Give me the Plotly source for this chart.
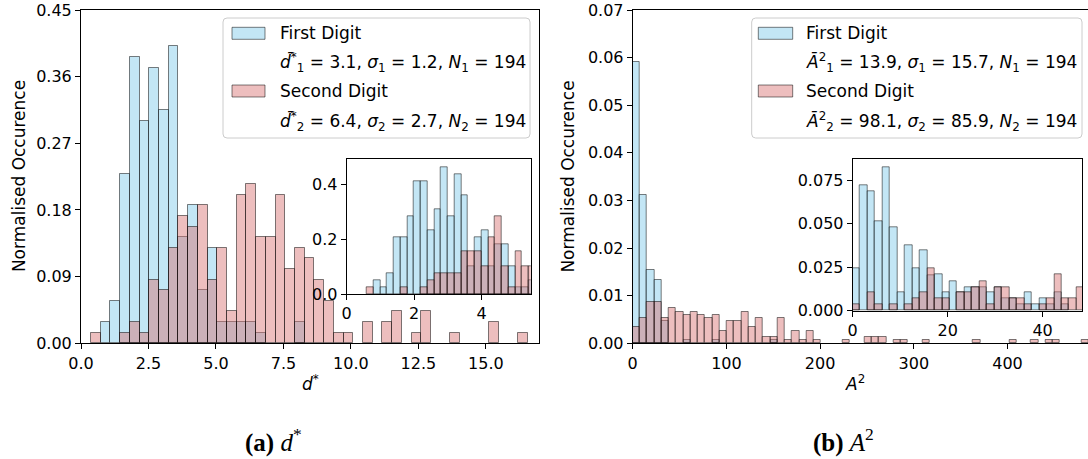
import plotly.graph_objects as go

W, H = 1088, 459

# ---------------- data (heights) ----------------
# (a) d* main histogram
d_bin_start = 0.37
d_bin_width = 0.36
d_first = [0, 0.0286, 0.0573, 0.2291, 0.3866, 0.3007, 0.3723, 0.3150, 0.4009, 0.1432,
           0.1862, 0.0716, 0.1289, 0.0286, 0.0286, 0.0286, 0.0286, 0.0143, 0, 0,
           0, 0.0286, 0, 0, 0, 0, 0, 0, 0, 0,
           0, 0, 0, 0, 0, 0, 0, 0, 0, 0,
           0, 0, 0, 0, 0]
d_second = [0.0143, 0, 0, 0.0143, 0.0286, 0.0143, 0.0859, 0.0716, 0.1289, 0.1718,
            0.1575, 0.1862, 0.0859, 0.1289, 0.0430, 0.2005, 0.2148, 0.1432, 0.1432, 0.2005,
            0.1002, 0.1289, 0.1146, 0.0859, 0.0573, 0.0143, 0.0143, 0, 0.0286, 0,
            0.0286, 0.0430, 0, 0.0143, 0.0430, 0, 0, 0.0143, 0, 0,
            0, 0.0286, 0, 0, 0.0143]

# (a) inset
di_bin_start = 0.6
di_bin_width = 0.2
di_first = [0, 0.0515, 0.0258, 0.0773, 0.2062, 0.2062, 0.2835, 0.4123, 0.4123, 0.2319,
            0.3092, 0.4639, 0.2835, 0.4381, 0.3608, 0.1031, 0.2062, 0.2319, 0.1031, 0.1804,
            0.1804, 0.1031, 0.0258, 0.0258, 0.0515]
di_second = [0.0258, 0, 0, 0, 0, 0.0258, 0, 0, 0.0258, 0.0515,
             0.0773, 0.0773, 0.0773, 0.0773, 0.1546, 0.1546, 0.1546, 0.1031, 0.2062, 0.2835,
             0.1031, 0.0258, 0.1546, 0.1031, 0.1031]

# (b) A^2 main histogram
a_bin_start = 0.0
a_bin_width = 7.73
a_first = [0.0591, 0.0311, 0.0155, 0.0134, 0.0046, 0, 0, 0.0007, 0, 0,
           0, 0.0007, 0, 0, 0, 0, 0, 0, 0, 0.0007]
a_second = [0.00333, 0.00534, 0.00867, 0.00867, 0.00534, 0.00734, 0.00667, 0.0060, 0.00667, 0.0060,
            0.00534, 0.0060, 0.00267, 0.00467, 0.00467, 0.00667, 0.00333, 0.00534, 0.00133, 0.00133,
            0.00534, 0.00067, 0.00267, 0.00067, 0.00267, 0.00067, 0, 0, 0, 0.00067,
            0, 0, 0.00133, 0.00133, 0.00133, 0, 0.00067, 0.00067, 0, 0,
            0.00067, 0, 0, 0, 0, 0, 0, 0.00067, 0, 0,
            0, 0, 0.00067, 0, 0, 0.00067, 0, 0.00067, 0.00067, 0,
            0, 0, 0.00067]

# (b) inset
ai_bin_start = 0.0
ai_bin_width = 1.572
ai_first = [0.0242, 0.0719, 0.0687, 0.0515, 0.0824, 0.0481, 0.0103, 0.0376, 0.0242, 0.0347,
            0.0204, 0.0208, 0.0103, 0.0170, 0.0103, 0.0137, 0.0137, 0.0137, 0.0103, 0.0137,
            0.0071, 0.0071, 0.0036, 0.0103, 0.0036, 0.0071, 0.0036, 0.0103, 0.0036, 0, 0]
ai_second = [0.0036, 0, 0.0103, 0.0036, 0, 0.0036, 0, 0.0036, 0.0071, 0.0103,
             0.0242, 0.0071, 0.0071, 0, 0.0103, 0.0103, 0.0137, 0.0170, 0.0036, 0.0137,
             0.0137, 0.0071, 0.0071, 0.0036, 0, 0.0036, 0.0071, 0.0208, 0.0071, 0.0071, 0.0137]

d_ticks = [0, 2.5, 5.0, 7.5, 10.0, 12.5, 15.0]
d_ticktext = ["0.0", "2.5", "5.0", "7.5", "10.0", "12.5", "15.0"]
d_yticks = [0, 0.09, 0.18, 0.27, 0.36, 0.45]
d_yticktext = ["0.00", "0.09", "0.18", "0.27", "0.36", "0.45"]
a_ticks = [0, 100, 200, 300, 400]
a_yticks = [0, 0.01, 0.02, 0.03, 0.04, 0.05, 0.06, 0.07]
a_yticktext = ["0.00", "0.01", "0.02", "0.03", "0.04", "0.05", "0.06", "0.07"]
di_ticks = [0, 2, 4]
di_yticks = [0, 0.2, 0.4]
di_yticktext = ["0.0", "0.2", "0.4"]
ai_ticks = [0, 20, 40]
ai_yticks = [0, 0.025, 0.05, 0.075]
ai_yticktext = ["0.000", "0.025", "0.050", "0.075"]

legend_a = ["First Digit",
            "<i>d\u0304</i><sup>*</sup><sub>1</sub> = 3.1, <i>\u03c3</i><sub>1</sub> = 1.2, <i>N</i><sub>1</sub> = 194",
            "Second Digit",
            "<i>d\u0304</i><sup>*</sup><sub>2</sub> = 6.4, <i>\u03c3</i><sub>2</sub> = 2.7, <i>N</i><sub>2</sub> = 194"]
legend_b = ["First Digit",
            "<i>A\u0304</i><sup>2</sup><sub>1</sub> = 13.9, <i>\u03c3</i><sub>1</sub> = 15.7, <i>N</i><sub>1</sub> = 194",
            "Second Digit",
            "<i>A\u0304</i><sup>2</sup><sub>2</sub> = 98.1, <i>\u03c3</i><sub>2</sub> = 85.9, <i>N</i><sub>2</sub> = 194"]

# ---------------- styling ----------------
BLUE = "rgba(135,206,235,0.5)"
RED = "rgba(215,110,110,0.45)"
EDGE = "rgba(0,0,0,0.5)"
FONT = "DejaVu Sans"


def px(x):
    return x / W


def py(y):
    return 1 - y / H


fig = go.Figure()


def add_hist(vals, start, width, color, xa, ya):
    xs, ys = [], []
    for i, v in enumerate(vals):
        if v > 0:
            xs.append(start + i * width)
            ys.append(v)
    fig.add_trace(go.Bar(x=xs, y=ys, width=width, offset=0,
                         marker=dict(color=color, line=dict(color=EDGE, width=1)),
                         xaxis=xa, yaxis=ya, showlegend=False, hoverinfo="skip"))


add_hist(d_first, d_bin_start, d_bin_width, BLUE, "x", "y")
add_hist(d_second, d_bin_start, d_bin_width, RED, "x", "y")
add_hist(a_first, a_bin_start, a_bin_width, BLUE, "x2", "y2")
add_hist(a_second, a_bin_start, a_bin_width, RED, "x2", "y2")
add_hist(di_first, di_bin_start, di_bin_width, BLUE, "x3", "y3")
add_hist(di_second, di_bin_start, di_bin_width, RED, "x3", "y3")
add_hist(ai_first, ai_bin_start, ai_bin_width, BLUE, "x4", "y4")
add_hist(ai_second, ai_bin_start, ai_bin_width, RED, "x4", "y4")

axis_common = dict(showline=True, linecolor="black", linewidth=1, mirror=True,
                   ticks="outside", ticklen=5, tickwidth=1, tickcolor="black",
                   showgrid=False, zeroline=False, automargin=False,
                   tickfont=dict(family=FONT, size=16, color="black"))

fig.update_layout(
    width=W, height=H, margin=dict(l=0, r=0, t=0, b=0, pad=0, autoexpand=False),
    paper_bgcolor="white", plot_bgcolor="white", barmode="overlay", bargap=0,
    showlegend=False,
    xaxis=dict(domain=[px(81), px(539)], range=[0, 16.97], tickvals=d_ticks,
               ticktext=d_ticktext, anchor="y", **axis_common),
    yaxis=dict(domain=[py(343.3), py(10)], range=[0, 0.45], tickvals=d_yticks,
               ticktext=d_yticktext, anchor="x", **axis_common),
    xaxis2=dict(domain=[px(632.7), 1.0], range=[0, (W - 632.7) / 0.937], tickvals=a_ticks,
                anchor="y2", **axis_common),
    yaxis2=dict(domain=[py(343.3), py(10)], range=[0, 0.07], tickvals=a_yticks,
                ticktext=a_yticktext, anchor="x2", **axis_common),
    xaxis3=dict(domain=[px(346.7), px(530.7)], range=[0, 5.46], tickvals=di_ticks,
                anchor="y3", **axis_common),
    yaxis3=dict(domain=[py(294), py(159.3)], range=[0, 0.4925], tickvals=di_yticks,
                ticktext=di_yticktext, anchor="x3", **axis_common),
    xaxis4=dict(domain=[px(852.7), px(1082)], range=[0, 48.3], tickvals=ai_ticks,
                anchor="y4", **axis_common),
    yaxis4=dict(domain=[py(310.7), py(159.3)], range=[0, 0.0869], tickvals=ai_yticks,
                ticktext=ai_yticktext, anchor="x4", **axis_common),
)

shapes = []
annotations = []


def rounded_box(x0, y0, x1, y1, r=4):
    pts = (f"M {px(x0 + r)},{py(y0)} L {px(x1 - r)},{py(y0)} "
           f"Q {px(x1)},{py(y0)} {px(x1)},{py(y0 + r)} "
           f"L {px(x1)},{py(y1 - r)} Q {px(x1)},{py(y1)} {px(x1 - r)},{py(y1)} "
           f"L {px(x0 + r)},{py(y1)} Q {px(x0)},{py(y1)} {px(x0)},{py(y1 - r)} "
           f"L {px(x0)},{py(y0 + r)} Q {px(x0)},{py(y0)} {px(x0 + r)},{py(y0)} Z")
    return dict(type="path", xref="paper", yref="paper", path=pts,
                line=dict(color="rgb(204,204,204)", width=1), fillcolor="rgba(255,255,255,0.8)",
                layer="above")


def add_legend(bx0, bx1, patch_x0, patch_x1, text_x, lines):
    shapes.append(rounded_box(bx0, 18, bx1, 138))
    row_y = [33.3, 62.5, 91, 121]
    for col, yc in ((BLUE, row_y[0]), (RED, row_y[2])):
        shapes.append(dict(type="rect", xref="paper", yref="paper",
                           x0=px(patch_x0), x1=px(patch_x1), y0=py(yc + 6), y1=py(yc - 6),
                           fillcolor=col, line=dict(color=EDGE, width=1), layer="above"))
    for txt, yc in zip(lines, row_y):
        annotations.append(dict(xref="paper", yref="paper", x=px(text_x), y=py(yc),
                                xanchor="left", yanchor="middle", showarrow=False, text=txt,
                                font=dict(family=FONT, size=17, color="black")))


add_legend(223, 530, 232, 265, 278, legend_a)
add_legend(751.7, 1082, 758.3, 792.7, 804, legend_b)

# axis labels
annotations += [
    dict(xref="paper", yref="paper", x=px(18.5), y=py(176.6), text="Normalised Occurence",
         textangle=-90, showarrow=False, xanchor="center", yanchor="middle",
         font=dict(family=FONT, size=17, color="black")),
    dict(xref="paper", yref="paper", x=px(568), y=py(176.6), text="Normalised Occurence",
         textangle=-90, showarrow=False, xanchor="center", yanchor="middle",
         font=dict(family=FONT, size=17, color="black")),
    dict(xref="paper", yref="paper", x=px(310), y=py(383), text="<i>d</i><sup>*</sup>",
         showarrow=False, xanchor="center", yanchor="middle",
         font=dict(family=FONT, size=17, color="black")),
    dict(xref="paper", yref="paper", x=px(855), y=py(383), text="<i>A</i><sup>2</sup>",
         showarrow=False, xanchor="center", yanchor="middle",
         font=dict(family=FONT, size=17, color="black")),
    dict(xref="paper", yref="paper", x=px(273), y=py(440), text="<b>(a)</b> <i>d</i><sup>*</sup>",
         showarrow=False, xanchor="center", yanchor="middle",
         font=dict(family="Liberation Serif", size=25, color="black")),
    dict(xref="paper", yref="paper", x=px(843), y=py(440), text="<b>(b)</b> <i>A</i><sup>2</sup>",
         showarrow=False, xanchor="center", yanchor="middle",
         font=dict(family="Liberation Serif", size=25, color="black")),
]

fig.update_layout(shapes=shapes, annotations=annotations)
fig.write_html("out.html")
